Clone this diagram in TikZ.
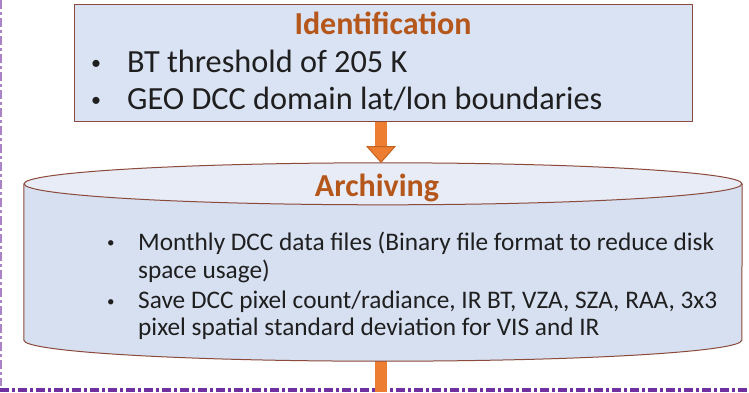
\documentclass[tikz,border=0pt]{standalone}
\usepackage{fontspec}
\setmainfont{Carlito}
\usetikzlibrary{arrows.meta}
\definecolor{boxblue}{HTML}{DAE3F3}
\definecolor{canblue}{HTML}{D6E0F1}
\definecolor{lidblue}{HTML}{E7ECF7}
\definecolor{rimbrown}{HTML}{8C4A3A}
\definecolor{titlebrown}{HTML}{B5561A}
\definecolor{arroworange}{HTML}{ED7D31}
\definecolor{arrowedge}{HTML}{C4621F}
\definecolor{groupviolet}{HTML}{7030A0}
\colorlet{textgray}{black!88}

\tikzset{
  stagebox/.style={draw=rimbrown, fill=boxblue, line width=1pt, minimum width=618pt, minimum height=116pt, inner sep=0},
  stagetitle/.style={text=titlebrown, font=\fontsize{32}{38}\selectfont\bfseries, inner sep=0},
  bigitem/.style={text=textgray, font=\fontsize{32.3}{38}\selectfont, anchor=west, inner sep=0},
  smallitem/.style={text=textgray, font=\fontsize{25.3}{30}\selectfont, anchor=west, inner sep=0},
  flowarrow/.style={arroworange, line width=12pt, -{Triangle[width=30pt,length=17pt,line width=1pt,fill=arroworange,color=arrowedge]}},
  groupline/.style={groupviolet, dash pattern=on 9pt off 3pt on 3pt off 3pt}
}
\newcommand{\bigdot}{\makebox[36pt][l]{\raisebox{3pt}{\fontsize{20}{20}\selectfont\textbullet}}}
\newcommand{\smalldot}{\makebox[31pt][l]{\raisebox{2.5pt}{\fontsize{15}{15}\selectfont\textbullet}}}

\begin{document}
\begin{tikzpicture}[x=1pt,y=1pt]
\useasboundingbox (0,0) rectangle (749,392);
% group frame
\draw[groupline, line width=4pt] (0,2) -- (749,2);
\draw[groupline, groupviolet!60, line width=3pt] (0,392) -- (0,6);
% identification step
\node[stagebox] (ident) at (383,329) {};
\node[stagetitle] (identtitle) at (383,369) {Identification};
\node[bigitem] (bt) at (91,331) {\bigdot BT threshold of 205 K};
\node[bigitem] (geo) at (91,293) {\bigdot GEO DCC domain lat/lon boundaries};
% archiving step (cylinder)
\coordinate (canexit) at (381,0);
\coordinate (canbottom) at (381,40);
\draw[arroworange, line width=12pt] (canbottom) -- (canexit);
\node[minimum width=718pt, minimum height=156pt, inner sep=0] (archive) at (383,130) {};
\fill[canblue] (archive.north west) -- (archive.south west)
  arc[start angle=180, end angle=360, x radius=359pt, y radius=21pt] -- (archive.north east) -- cycle;
\draw[rimbrown, line width=1pt] (archive.north west) -- (archive.south west)
  arc[start angle=180, end angle=360, x radius=359pt, y radius=21pt] -- (archive.north east);
\draw[rimbrown, line width=1pt, fill=lidblue] (archive.north) ellipse[x radius=359pt, y radius=21pt];
\coordinate (lidtop) at (381,229);
\node[stagetitle] (archtitle) at (377,204) {Archiving};
\node[smallitem] (monthly) at (107,149) {\smalldot Monthly DCC data files (Binary file format to reduce disk};
\node[smallitem] (usage) at (138,121) {space usage)};
\node[smallitem] (save) at (107,90) {\smalldot Save DCC pixel count/radiance, IR BT, VZA, SZA, RAA, 3x3};
\node[smallitem] (spatial) at (138,63) {pixel spatial standard deviation for VIS and IR};
% flow
\draw[flowarrow] (ident.south -| lidtop) -- (lidtop);
\end{tikzpicture}
\end{document}
